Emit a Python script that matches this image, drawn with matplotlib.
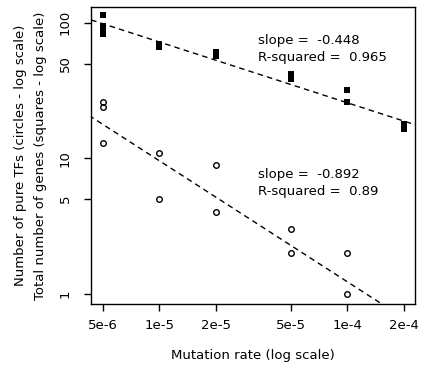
import numpy as np
import matplotlib
matplotlib.use("Agg")
import matplotlib.pyplot as plt

# Data (log-log plot)
genes_rate = [5e-6, 5e-6, 5e-6, 5e-6, 1e-5, 1e-5, 2e-5, 2e-5,
              5e-5, 5e-5, 1e-4, 1e-4, 2e-4, 2e-4]
genes_total = [113, 94, 88, 82, 70, 66, 61, 57, 42, 38.5, 32, 26, 18, 16.5]

tf_rate = [5e-6, 5e-6, 5e-6, 1e-5, 1e-5, 2e-5, 2e-5, 5e-5, 5e-5, 1e-4, 1e-4]
tf_count = [26, 24, 13, 11, 5, 9, 4, 3, 2, 2, 1]

# fitted lines: log10(y) = a + b*log10(x)
genes_fit = (-0.382, -0.448)
tf_fit = (-3.477, -0.892)
genes_r2 = "0.965"
tf_r2 = "0.89"

xticks = [5e-6, 1e-5, 2e-5, 5e-5, 1e-4, 2e-4]
xtick_labels = ["5e-6", "1e-5", "2e-5", "5e-5", "1e-4", "2e-4"]
yticks = [1, 5, 10, 50, 100]

plt.rcParams['font.family'] = ['DejaVu Sans']
fs = 9.5

fig = plt.figure(figsize=(4.25, 3.65), dpi=100)
ax = fig.add_axes([0.214, 0.167, 0.762, 0.814])

ax.plot(genes_rate, genes_total, 's', color='black', markersize=4.5, markeredgewidth=0)
ax.plot(tf_rate, tf_count, 'o', markerfacecolor='none', markeredgecolor='black',
        markersize=4, markeredgewidth=1)

xs = np.array([1e-6, 1e-3])
for a, b in [genes_fit, tf_fit]:
    ax.plot(xs, 10 ** (a + b * np.log10(xs)), color='black', linewidth=1,
            linestyle=(0, (4, 3)))

ax.set_xscale('log')
ax.set_yscale('log')
ax.set_xlim(10 ** -5.363, 10 ** -3.640)
ax.set_ylim(10 ** -0.074, 10 ** 2.116)

ax.set_xticks(xticks)
ax.set_xticklabels(xtick_labels)
ax.set_yticks(yticks)
ax.set_yticklabels([str(t) for t in yticks], rotation=90, va='center')
ax.minorticks_off()
ax.tick_params(direction='out', length=5, width=1, labelsize=fs)
ax.tick_params(axis='x', pad=6)
ax.tick_params(axis='y', pad=9)

for s in ax.spines.values():
    s.set_linewidth(1)

ax.set_xlabel("Mutation rate (log scale)", fontsize=fs, labelpad=12)
ax.set_ylabel("Number of pure TFs (circles - log scale)\nTotal number of genes (squares - log scale)",
              fontsize=fs, labelpad=8, linespacing=1.75)

ax.text(0.515, 0.86, "slope =  " + str(genes_fit[1]) + "\nR-squared =  " + genes_r2,
        transform=ax.transAxes, fontsize=fs, va='center', ha='left', linespacing=1.4)
ax.text(0.515, 0.409, "slope =  " + str(tf_fit[1]) + "\nR-squared =  " + tf_r2,
        transform=ax.transAxes, fontsize=fs, va='center', ha='left', linespacing=1.4)

fig.savefig("out.png", dpi=100)
